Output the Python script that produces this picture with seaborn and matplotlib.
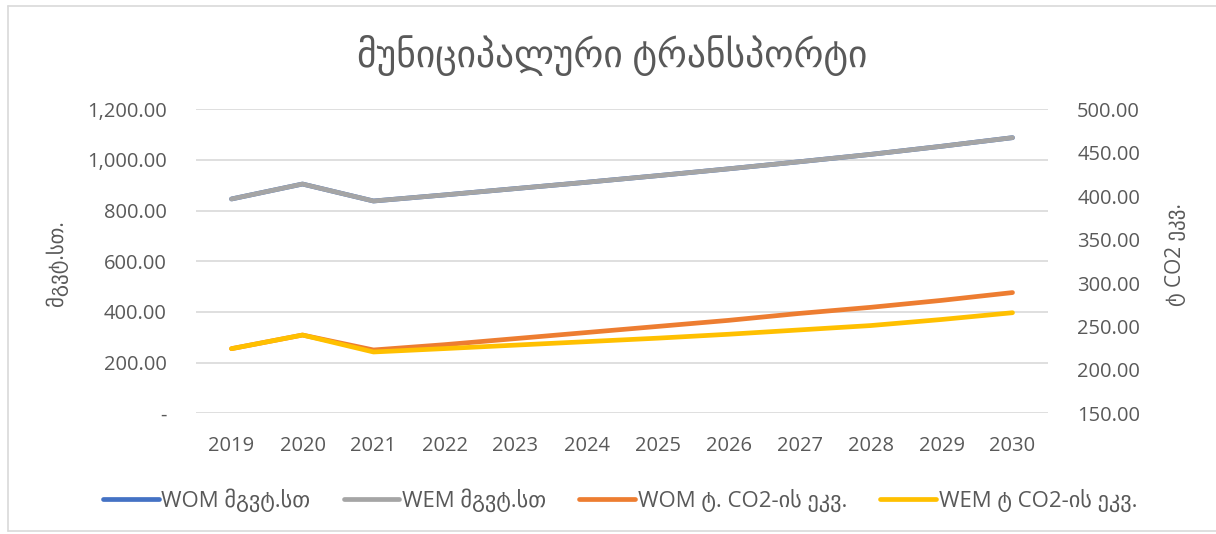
import matplotlib
matplotlib.use("Agg")
import matplotlib.pyplot as plt
import matplotlib.ticker as mticker
from matplotlib.lines import Line2D
import seaborn as sns
import pandas as pd

years = [2019, 2020, 2021, 2022, 2023, 2024, 2025, 2026, 2027, 2028, 2029, 2030]
wom_mwh = [846, 905, 838, 862, 887, 912, 938, 965, 993, 1022, 1054, 1088]
wem_mwh = [846, 905, 838, 862, 887, 912, 938, 965, 993, 1022, 1054, 1088]
wom_t = [224.4, 240.1, 222.9, 229.0, 236.0, 243.0, 250.0, 257.0, 265.0, 272.0, 280.0, 289.0]
wem_t = [224.4, 240.1, 220.6, 224.5, 228.5, 232.5, 236.5, 241.0, 246.0, 251.0, 258.0, 265.8]

labels = ["WOM მგვტ.სთ", "WEM მგვტ.სთ", "WOM ტ. CO2-ის ეკვ.", "WEM ტ CO2-ის ეკვ."]
colors = ["#4472C4", "#A5A5A5", "#ED7D31", "#FFC000"]
title = "მუნიციპალური ტრანსპორტი"
ylabel_left = "მგვტ.სთ."
ylabel_right = "ტ CO2 ეკვ."

sns.set_theme(style="white")
plt.rcParams['font.family'] = ['Open Sans', 'DejaVu Sans']
txt = "#595959"

fig = plt.figure(figsize=(12.16, 5.34), dpi=100)
ax = fig.add_axes([196/1216, 1-413.3/534, (1048-196)/1216, (413.3-109.3)/534])
ax2 = ax.twinx()

df = pd.DataFrame({"year": years, "a": wom_mwh, "b": wem_mwh, "c": wom_t, "d": wem_t})
lw = 3.4
sns.lineplot(data=df, x="year", y="a", ax=ax, color=colors[0], lw=lw, solid_capstyle="round")
sns.lineplot(data=df, x="year", y="b", ax=ax, color=colors[1], lw=lw, solid_capstyle="round")
sns.lineplot(data=df, x="year", y="c", ax=ax2, color=colors[2], lw=lw, solid_capstyle="round")
sns.lineplot(data=df, x="year", y="d", ax=ax2, color=colors[3], lw=lw, solid_capstyle="round")

ax.set_xlim(2018.5, 2030.5)
ax.set_ylim(0, 1200)
ax2.set_ylim(150, 500)
ax.set_xticks(years)
ax.set_xticklabels([str(y) for y in years])
ax.set_yticks(range(0, 1201, 200))
ax2.set_yticks(range(150, 501, 50))
ax.yaxis.set_major_formatter(mticker.FuncFormatter(lambda v, p: "-" if v == 0 else f"{v:,.2f}"))
ax2.yaxis.set_major_formatter(mticker.FuncFormatter(lambda v, p: f"{v:,.2f}"))
ax.grid(axis="y", color="#D9D9D9", lw=1.2)
ax.set_axisbelow(True)
for a in (ax, ax2):
    for s in a.spines.values():
        s.set_visible(False)
    a.set_xlabel("")
    a.set_ylabel("")
ax.tick_params(axis="both", length=0, labelsize=14.5, colors=txt)
ax.tick_params(axis="y", pad=21)
ax.tick_params(axis="x", pad=16)
ax2.tick_params(axis="y", length=0, labelsize=14.5, colors=txt, pad=21)

fig.text(612/1216, 1-55/534, title, ha="center", va="center", fontsize=27, color=txt)
fig.text(57/1216, 1-263/534, ylabel_left, rotation=90, ha="center", va="center", fontsize=15, color=txt)
fig.text(1176/1216, 1-255/534, ylabel_right, rotation=90, ha="center", va="center", fontsize=15, color=txt)

handles = [Line2D([0], [0], color=c, lw=lw, solid_capstyle="round") for c in colors]
leg = fig.legend(handles, labels, loc="center", bbox_to_anchor=(620/1216, 1-500/534), ncol=4,
                 frameon=False, fontsize=16, handlelength=2.5, handletextpad=0.12, columnspacing=1.5)
for t in leg.get_texts():
    t.set_color(txt)

# outer chart frame
fr = "#D9D9D9"
fig.add_artist(Line2D([8/1216, 8/1216], [1-531/534, 1-6/534], color=fr, lw=1.2, transform=fig.transFigure))
fig.add_artist(Line2D([8/1216, 1], [1-6/534, 1-6/534], color=fr, lw=1.2, transform=fig.transFigure))
fig.add_artist(Line2D([8/1216, 1], [1-531/534, 1-531/534], color=fr, lw=1.2, transform=fig.transFigure))

fig.savefig("out.png", dpi=100)
